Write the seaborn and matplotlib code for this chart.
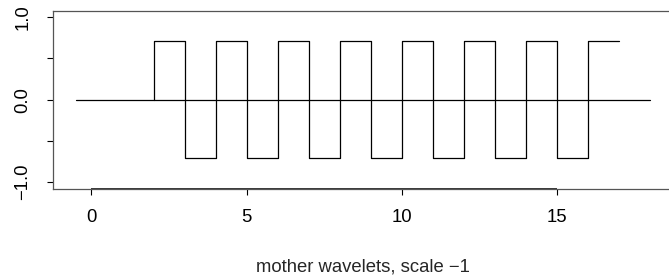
import pandas as pd
import seaborn as sns
import matplotlib.pyplot as plt

# mother wavelet (Haar-like), values on each unit interval
wave_x = [2, 3, 4, 5, 6, 7, 8, 9, 10, 11, 12, 13, 14, 15, 16, 17]
wave_y = [0, 0.7071, -0.7071, 0.7071, -0.7071, 0.7071, -0.7071, 0.7071,
          -0.7071, 0.7071, -0.7071, 0.7071, -0.7071, 0.7071, -0.7071, 0.7071]
base_x = [-0.5, 18]
base_y = [0, 0]

x_ticks = [0, 5, 10, 15]
y_ticks = [-1.0, -0.5, 0.0, 0.5, 1.0]
y_labels = ["\u22121.0", "", "0.0", "", "1.0"]
x_label = "mother wavelets, scale \u22121"

sns.set_style("white")
plt.rcParams['font.family'] = ['Liberation Sans', 'DejaVu Sans']
fs = 13.3

fig = plt.figure(figsize=(6.69, 2.80), dpi=100)
ax = fig.add_axes([53/669, 91.5/280, 620/669, 177.8/280])

wave = pd.DataFrame({"x": wave_x, "y": wave_y})
base = pd.DataFrame({"x": base_x, "y": base_y})
sns.lineplot(data=base, x="x", y="y", ax=ax, color="black", lw=0.9,
             estimator=None, sort=False)
sns.lineplot(data=wave, x="x", y="y", ax=ax, color="black", lw=0.9,
             estimator=None, sort=False, drawstyle="steps-pre")

ax.set_xlim(-1.24, 18.74)
ax.set_ylim(-1.08, 1.08)
ax.set_xticks(x_ticks)
ax.set_xticklabels([str(t) for t in x_ticks])
ax.set_yticks(y_ticks)
ax.set_yticklabels(y_labels, rotation=90, va="center")
ax.tick_params(axis="both", direction="out", length=4, width=0.8,
               color="black", labelsize=fs, labelcolor="black")
ax.tick_params(axis="x", pad=11, bottom=True)
ax.tick_params(axis="y", pad=11.5, left=True)

for s in ax.spines.values():
    s.set_visible(True)
    s.set_color("#555555")
    s.set_linewidth(0.9)

# axis line along the labelled range, as in base R
ax.hlines(-1.08, x_ticks[0], x_ticks[-1], color="black", lw=1.1, clip_on=False)

ax.set_xlabel(x_label, fontsize=fs, labelpad=23)
ax.set_ylabel("")

fig.savefig("out.png", dpi=100)
